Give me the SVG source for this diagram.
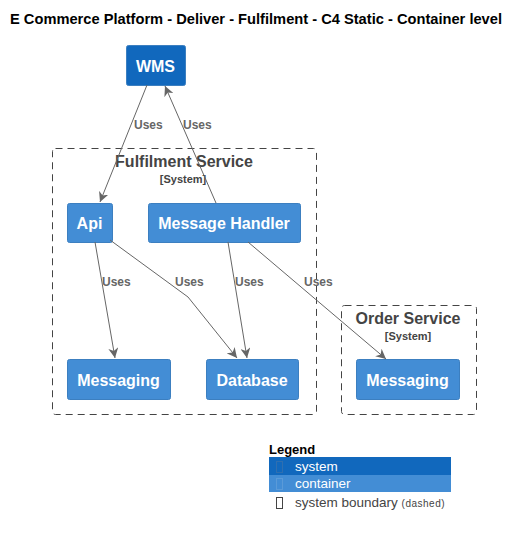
<svg xmlns="http://www.w3.org/2000/svg" width="519" height="536" viewBox="0 0 519 536">
<style>
text{font-family:"Liberation Sans",Arial,sans-serif}
.sys{fill:#1168BD;stroke:#3C7FC0;stroke-width:1}
.cont{fill:#438DD5;stroke:#3C7FC0;stroke-width:1}
.nl{fill:#FFFFFF;font-size:16px;font-weight:bold;text-anchor:middle}
.bnd{fill:none;stroke:#444444;stroke-width:1;stroke-dasharray:7,5}
.bl{fill:#444444;font-size:16px;font-weight:bold;text-anchor:middle}
.bs{fill:#444444;font-size:11px;font-weight:bold;text-anchor:middle}
.edge{fill:none;stroke:#666666;stroke-width:1}
.el{fill:#666666;font-size:12px;font-weight:bold}
.lg{font-size:13.5px}
</style>
<defs>
<marker id="arr" viewBox="0 0 10 10" refX="10" refY="5" markerWidth="10" markerHeight="10" markerUnits="userSpaceOnUse" orient="auto">
<path d="M0,0 L10,5 L0,10 L3,5 Z" fill="#666666"/>
</marker>
</defs>
<text x="10" y="24" font-size="14" font-weight="bold" fill="#000000" textLength="492" lengthAdjust="spacingAndGlyphs">E Commerce Platform - Deliver - Fulfilment - C4 Static - Container level</text>

<g id="fulfilment-boundary">
<rect class="bnd" x="52.5" y="148.5" width="264" height="266" rx="3"/>
<text class="bl" x="184" y="167">Fulfilment Service</text>
<text class="bs" x="183" y="183">[System]</text>
</g>
<g id="order-boundary">
<rect class="bnd" x="341.5" y="305.5" width="135" height="109" rx="3"/>
<text class="bl" x="408" y="324">Order Service</text>
<text class="bs" x="408" y="340">[System]</text>
</g>

<g id="wms">
<rect class="sys" x="126.5" y="45.5" width="59" height="40" rx="2"/>
<text class="nl" x="155.5" y="71.5">WMS</text>
</g>
<g id="api">
<rect class="cont" x="67.5" y="203.5" width="45" height="39" rx="2"/>
<text class="nl" x="89.5" y="228.5">Api</text>
</g>
<g id="message-handler">
<rect class="cont" x="148.5" y="203.5" width="152" height="39" rx="2"/>
<text class="nl" x="224" y="228.5">Message Handler</text>
</g>
<g id="messaging">
<rect class="cont" x="67.5" y="359.5" width="103" height="40" rx="2"/>
<text class="nl" x="118.5" y="385.5">Messaging</text>
</g>
<g id="database">
<rect class="cont" x="206.5" y="359.5" width="92" height="40" rx="2"/>
<text class="nl" x="252" y="385.5">Database</text>
</g>
<g id="order-messaging">
<rect class="cont" x="356.5" y="359.5" width="103" height="40" rx="2"/>
<text class="nl" x="407.5" y="385.5">Messaging</text>
</g>

<g id="connectors">
<path class="edge" d="M147,85 L100,202" marker-end="url(#arr)"/>
<path class="edge" d="M216,203 L165,86" marker-end="url(#arr)"/>
<path class="edge" d="M95,242 L115,358" marker-end="url(#arr)"/>
<path class="edge" d="M110,240 L188,297 L237,358" marker-end="url(#arr)"/>
<path class="edge" d="M228,242 L247,358" marker-end="url(#arr)"/>
<path class="edge" d="M248,242 L386,359" marker-end="url(#arr)"/>
<text class="el" x="134" y="129">Uses</text>
<text class="el" x="183" y="129">Uses</text>
<text class="el" x="102" y="286">Uses</text>
<text class="el" x="175" y="286">Uses</text>
<text class="el" x="235" y="286">Uses</text>
<text class="el" x="304" y="286">Uses</text>
</g>

<g id="legend">
<text x="269" y="454" font-size="13" font-weight="bold" fill="#000000">Legend</text>
<rect x="269" y="457" width="182" height="18" fill="#1168BD"/>
<rect x="276.5" y="461.5" width="6" height="11" fill="none" stroke="#2F6FB0" stroke-width="1"/>
<text class="lg" x="295" y="471" fill="#FFFFFF">system</text>
<rect x="269" y="475" width="182" height="17" fill="#438DD5"/>
<rect x="276.5" y="478.5" width="6" height="11" fill="none" stroke="#5A9AD8" stroke-width="1"/>
<text class="lg" x="295" y="488" fill="#FFFFFF">container</text>
<rect x="276.5" y="497.5" width="6" height="11" fill="none" stroke="#444444" stroke-width="1"/>
<text class="lg" x="295" y="507" fill="#444444">system boundary <tspan font-size="10" letter-spacing="0.5">(dashed)</tspan></text>
</g>
</svg>
